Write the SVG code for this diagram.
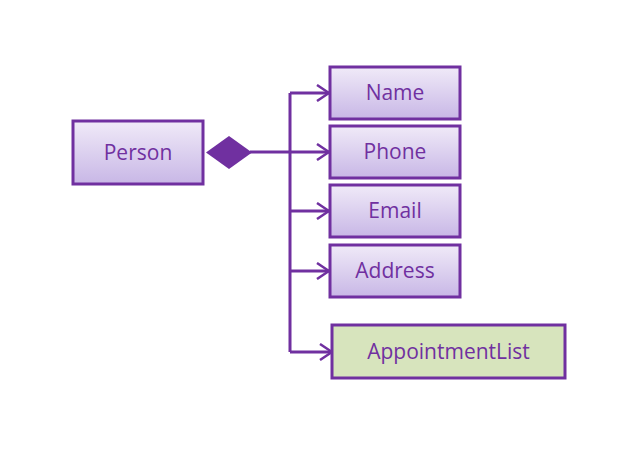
<svg xmlns="http://www.w3.org/2000/svg" width="639" height="453" viewBox="0 0 639 453">
<defs>
<linearGradient id="g" x1="0" y1="0" x2="0" y2="1">
<stop offset="0" stop-color="#F0EAF8"/>
<stop offset="1" stop-color="#C8B7E6"/>
</linearGradient>
<marker id="arr" markerWidth="14" markerHeight="18" refX="13" refY="9" orient="auto" markerUnits="userSpaceOnUse">
<path d="M1,1 L13,9 L1,17" fill="none" stroke="#7030A0" stroke-width="2.5"/>
</marker>
</defs>
<style>
.box{fill:url(#g);stroke:#7030A0;stroke-width:3}
.green{fill:#D7E4BD;stroke:#7030A0;stroke-width:3}
.t{font-family:"Open Sans","Noto Sans",sans-serif;font-size:21px;fill:#7030A0;text-anchor:middle;dominant-baseline:central}
.c{fill:none;stroke:#7030A0;stroke-width:3}
</style>
<rect width="639" height="453" fill="#fff"/>
<g id="connectors">
<path class="c" d="M290,93 V352"/>
<path class="c" d="M250,152 H329" marker-end="url(#arr)"/>
<path class="c" d="M290,93 H329" marker-end="url(#arr)"/>
<path class="c" d="M290,211 H329" marker-end="url(#arr)"/>
<path class="c" d="M290,271 H329" marker-end="url(#arr)"/>
<path class="c" d="M290,352 H332" marker-end="url(#arr)"/>
<path d="M206,152.5 L229,136 L252,152.5 L229,169 Z" fill="#7030A0"/>
</g>
<g id="person"><rect class="box" x="73" y="121" width="130" height="63"/><text class="t" x="138" y="152">Person</text></g>
<g id="name"><rect class="box" x="330" y="67" width="130" height="52"/><text class="t" x="395" y="92">Name</text></g>
<g id="phone"><rect class="box" x="330" y="126" width="130" height="52"/><text class="t" x="395" y="151">Phone</text></g>
<g id="email"><rect class="box" x="330" y="185" width="130" height="52"/><text class="t" x="395" y="210">Email</text></g>
<g id="address"><rect class="box" x="330" y="245" width="130" height="52"/><text class="t" x="395" y="270">Address</text></g>
<g id="appointmentlist"><rect class="green" x="332" y="325" width="233" height="53"/><text class="t" x="448.5" y="351">AppointmentList</text></g>
</svg>
